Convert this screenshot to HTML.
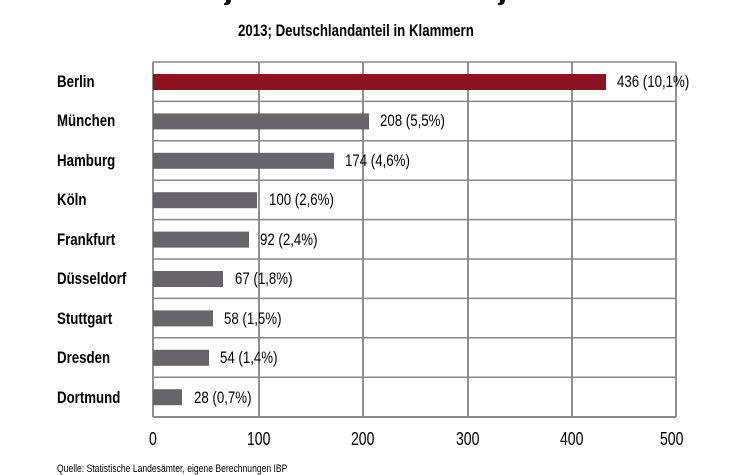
<!DOCTYPE html>
<html><head><meta charset="utf-8"><style>
html,body{margin:0;padding:0;background:#fff;}
body{width:732px;height:469px;position:relative;overflow:hidden;font-family:"Liberation Sans",sans-serif;}
.t{position:absolute;white-space:nowrap;transform-origin:0 50%;transform:scaleX(0.78);color:#000;}
</style></head><body>
<svg width="732" height="469" style="position:absolute;left:0;top:0">
<path d="M226 0 h5 q0 5 -5 5 h-2 v-2 h1 q1 0 1 -3z" fill="#111"/>
<path d="M500 0 h5 q0 5 -5 5 h-2 v-2 h1 q1 0 1 -3z" fill="#111"/>
<g stroke="#222" stroke-width="1">
<line x1="259" y1="62" x2="259" y2="417"/>
<line x1="363" y1="62" x2="363" y2="417"/>
<line x1="468" y1="62" x2="468" y2="417"/>
<line x1="572" y1="62" x2="572" y2="417"/>
<line x1="676" y1="62" x2="676" y2="417"/>
<line x1="153" y1="62" x2="153" y2="417"/>
</g>
<g stroke="#888" stroke-width="1.5">
<line x1="153" y1="62" x2="676" y2="62"/>
<line x1="153" y1="101.4" x2="676" y2="101.4"/>
<line x1="153" y1="140.8" x2="676" y2="140.8"/>
<line x1="153" y1="180.2" x2="676" y2="180.2"/>
<line x1="153" y1="219.6" x2="676" y2="219.6"/>
<line x1="153" y1="259" x2="676" y2="259"/>
<line x1="153" y1="298.4" x2="676" y2="298.4"/>
<line x1="153" y1="337.8" x2="676" y2="337.8"/>
<line x1="153" y1="377.2" x2="676" y2="377.2"/>
<line x1="153" y1="417" x2="676" y2="417" stroke-width="2"/>
</g>
<rect x="153" y="74" width="453" height="16" fill="#8a1420"/>
<g fill="#67656a">
<rect x="153" y="113.4" width="216" height="16"/>
<rect x="153" y="152.8" width="181" height="16"/>
<rect x="153" y="192.2" width="104" height="16"/>
<rect x="153" y="231.6" width="96" height="16"/>
<rect x="153" y="271" width="70" height="16"/>
<rect x="153" y="310.4" width="60" height="16"/>
<rect x="153" y="349.8" width="56" height="16"/>
<rect x="153" y="389.2" width="29" height="16"/>
</g>
</svg>
<div class="t" style="left:238px;top:21px;font-size:17px;font-weight:bold;">2013; Deutschlandanteil in Klammern</div>
<div class="t" style="left:57px;top:72px;font-size:17px;font-weight:bold;">Berlin</div>
<div class="t" style="left:57px;top:111px;font-size:17px;font-weight:bold;">München</div>
<div class="t" style="left:57px;top:151px;font-size:17px;font-weight:bold;">Hamburg</div>
<div class="t" style="left:57px;top:190px;font-size:17px;font-weight:bold;">Köln</div>
<div class="t" style="left:57px;top:230px;font-size:17px;font-weight:bold;">Frankfurt</div>
<div class="t" style="left:57px;top:269px;font-size:17px;font-weight:bold;">Düsseldorf</div>
<div class="t" style="left:57px;top:309px;font-size:17px;font-weight:bold;">Stuttgart</div>
<div class="t" style="left:57px;top:348px;font-size:17px;font-weight:bold;">Dresden</div>
<div class="t" style="left:57px;top:388px;font-size:17px;font-weight:bold;">Dortmund</div>
<div class="t" style="left:617px;top:72px;font-size:17px;">436 (10,1%)</div>
<div class="t" style="left:380px;top:111px;font-size:17px;">208 (5,5%)</div>
<div class="t" style="left:345px;top:151px;font-size:17px;">174 (4,6%)</div>
<div class="t" style="left:269px;top:190px;font-size:17px;">100 (2,6%)</div>
<div class="t" style="left:260px;top:230px;font-size:17px;">92 (2,4%)</div>
<div class="t" style="left:235px;top:269px;font-size:17px;">67 (1,8%)</div>
<div class="t" style="left:224px;top:309px;font-size:17px;">58 (1,5%)</div>
<div class="t" style="left:220px;top:348px;font-size:17px;">54 (1,4%)</div>
<div class="t" style="left:194px;top:388px;font-size:17px;">28 (0,7%)</div>
<div class="t" style="left:149px;top:429px;font-size:18px;">0</div>
<div class="t" style="left:247px;top:429px;font-size:18px;">100</div>
<div class="t" style="left:351px;top:429px;font-size:18px;">200</div>
<div class="t" style="left:456px;top:429px;font-size:18px;">300</div>
<div class="t" style="left:560px;top:429px;font-size:18px;">400</div>
<div class="t" style="left:660px;top:429px;font-size:18px;">500</div>
<div class="t" style="left:57px;top:463px;font-size:11px;">Quelle: Statistische Landesämter, eigene Berechnungen IBP</div>
</body></html>
